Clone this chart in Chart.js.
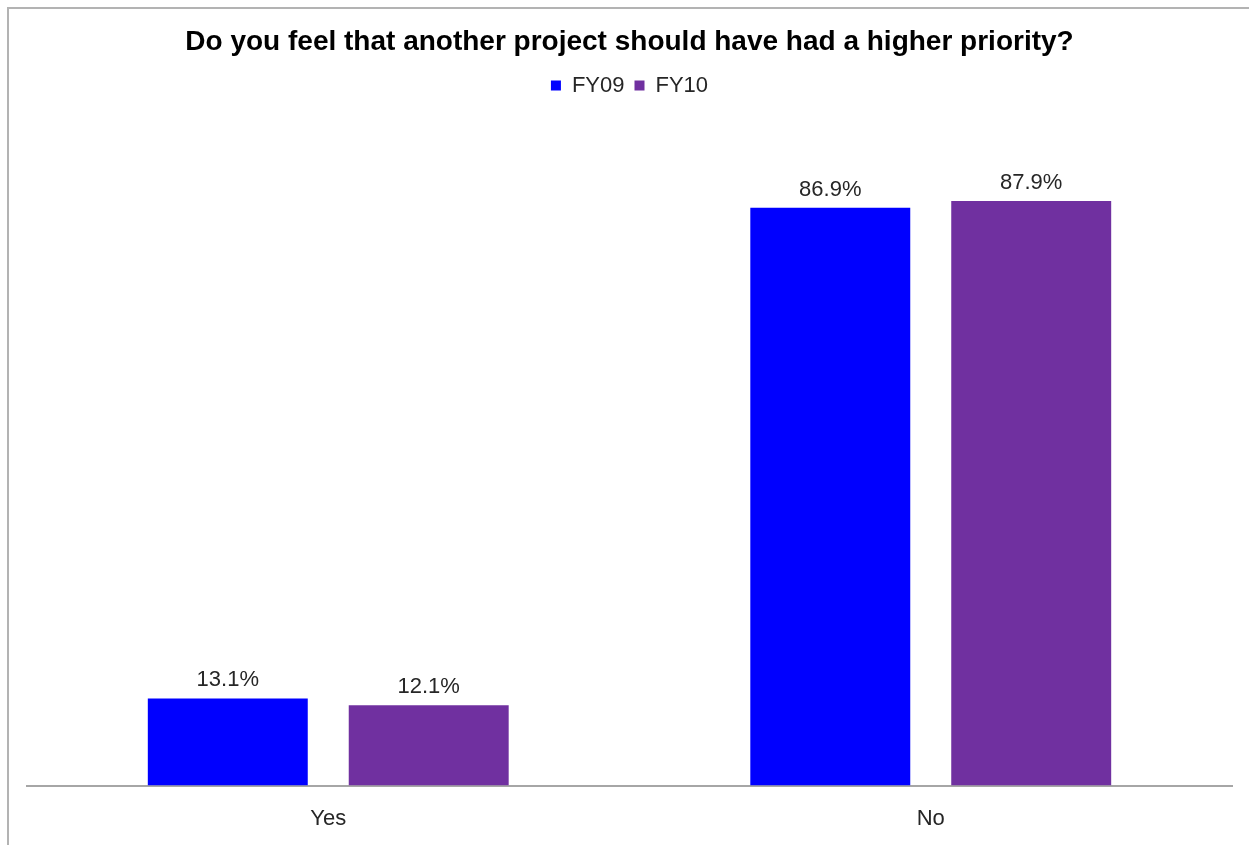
<!DOCTYPE html>
<html>
<head>
<meta charset="utf-8">
<script src="https://cdn.jsdelivr.net/npm/chart.js@4/dist/chart.umd.min.js"></script>
<style>
    html, body { margin: 0; padding: 0; background: #fff; }
    #wrap { position: relative; width: 1249px; height: 845px; }
    #frame {
        position: absolute; left: 7px; top: 7px; right: 0; bottom: 0;
        border-left: 2px solid #b3b3b3; border-top: 2px solid #b3b3b3;
        pointer-events: none;
    }
    canvas { position: absolute; left: 0; top: 0; }
</style>
</head>
<body>
<div id="wrap">
    <canvas id="chart" width="1249" height="845"></canvas>
    <div id="frame"></div>
</div>
<script>
// 回答カテゴリと年度別の割合(%)
const categories = ["Yes", "No"];
const fy09Values = [13.1, 86.9];
const fy10Values = [12.1, 87.9];
const seriesNames = ["FY09", "FY10"];

const FONT = "'Liberation Sans', Arial, sans-serif";

// 棒の上に値ラベルを描くプラグイン
const valueLabels = {
    id: "valueLabels",
    afterDatasetsDraw(chart) {
        const ctx = chart.ctx;
        ctx.save();
        ctx.font = `22px ${FONT}`;
        ctx.fillStyle = "#262626";
        ctx.textAlign = "center";
        ctx.textBaseline = "alphabetic";
        chart.data.datasets.forEach((ds, i) => {
            chart.getDatasetMeta(i).data.forEach((bar, j) => {
                ctx.fillText(ds.data[j].toFixed(1) + "%", bar.x, bar.y - 12);
            });
        });
        ctx.restore();
    }
};

// 凡例の下に余白を足す
const legendSpacing = {
    id: "legendSpacing",
    beforeInit(chart) {
        const fit = chart.legend.fit;
        chart.legend.fit = function () {
            fit.bind(chart.legend)();
            this.height += 14;
        };
    }
};

const ctx = document.getElementById("chart").getContext("2d");
new Chart(ctx, {
    type: "bar",
    data: {
        labels: categories,
        datasets: [
            { label: seriesNames[0], data: fy09Values, backgroundColor: "#0000ff" },
            { label: seriesNames[1], data: fy10Values, backgroundColor: "#7030a0" },
        ],
    },
    options: {
        responsive: false,
        animation: false,
        devicePixelRatio: 1,
        layout: { padding: { left: 27, right: 17, top: 0, bottom: 0 } },
        datasets: {
            bar: { categoryPercentage: 0.667, barPercentage: 0.796 },
        },
        scales: {
            x: {
                grid: { display: false, drawTicks: true, tickLength: 7 },
                border: { display: true, color: "#a6a6a6", width: 2 },
                ticks: { color: "#262626", font: { family: FONT, size: 22 }, padding: 13 },
            },
            y: {
                display: false,
                min: 0,
                max: 100,
            },
        },
        plugins: {
            title: {
                display: true,
                text: "Do you feel that another project should have had a higher priority?",
                color: "#000",
                font: { family: FONT, size: 28, weight: "bold" },
                padding: { top: 25, bottom: 6 },
            },
            legend: {
                display: true,
                labels: {
                    color: "#262626",
                    font: { family: FONT, size: 22 },
                    boxWidth: 10,
                    boxHeight: 10,
                    padding: 10,
                },
            },
            tooltip: { enabled: false },
        },
    },
    plugins: [valueLabels, legendSpacing],
});
</script>
</body>
</html>
